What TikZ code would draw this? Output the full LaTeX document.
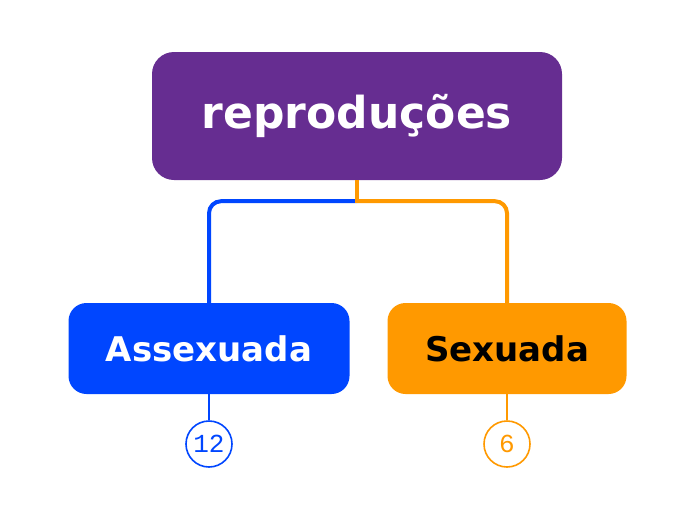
\documentclass[tikz,border=0pt]{standalone}
\usepackage{fontspec}
\setmainfont{DejaVu Sans}
\setmonofont{Liberation Mono}
\definecolor{rootpurple}{HTML}{662D91}
\definecolor{asxblue}{HTML}{0046FF}
\definecolor{sexorange}{HTML}{FF9900}
\tikzset{
  topicbox/.style={rounded corners=18pt, inner sep=0pt, font=\bfseries\fontsize{34}{40}\selectfont},
  countcirc/.style={circle, draw, line width=1.6pt, fill=white, minimum size=46pt, inner sep=0pt, font=\ttfamily\fontsize{26}{28}\selectfont},
  branch/.style={line width=4pt},
  pin/.style={line width=2pt}
}
\begin{document}
\begin{tikzpicture}[x=1pt, y=-1pt]
  \useasboundingbox (0,0) rectangle (696,520);

  \node[topicbox, rounded corners=22pt, fill=rootpurple, text=white, minimum width=410pt, minimum height=128pt,
        font=\bfseries\fontsize{44}{50}\selectfont] (root) at (357,116) {reproduções};

  \node[topicbox, fill=asxblue, text=white, minimum width=281pt, minimum height=91pt] (asx) at (209,348.5) {Assexuada};
  \node[topicbox, fill=sexorange, text=black, minimum width=239pt, minimum height=91pt] (sex) at (507,348.5) {Sexuada};

  \node[countcirc, draw=asxblue, text=asxblue] (c12) at (209,444) {12};
  \node[countcirc, draw=sexorange, text=sexorange] (c6) at (507,444) {6};

  % branches
  \draw[branch, asxblue, rounded corners=12pt] ([yshift=-21pt]root.south) -| (asx.north);
  \draw[branch, sexorange, rounded corners=12pt] ([yshift=-21pt]root.south) -| (sex.north);
  \draw[branch, sexorange] (root.south) -- ([yshift=-23pt]root.south);

  % counters
  \draw[pin, asxblue] (asx.south) -- (c12.north);
  \draw[pin, sexorange] (sex.south) -- (c6.north);
\end{tikzpicture}
\end{document}
